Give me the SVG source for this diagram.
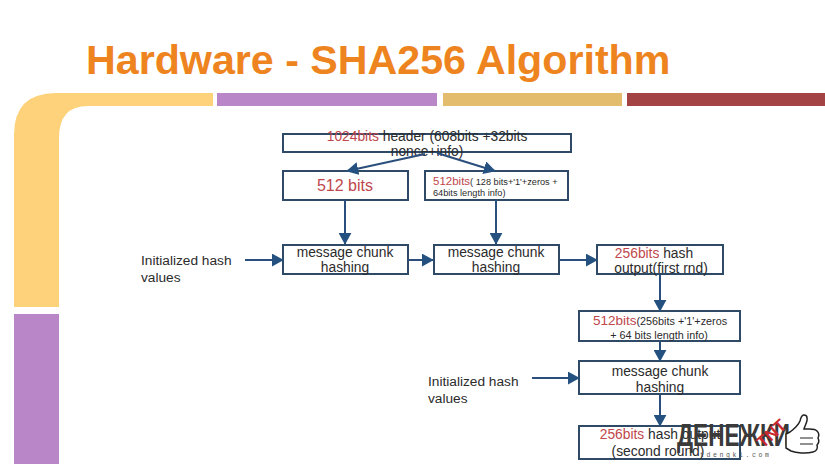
<svg xmlns="http://www.w3.org/2000/svg" width="825" height="464" viewBox="0 0 825 464">
<style>
text{font-family:"Liberation Sans",Arial,sans-serif;fill:#2b2b2b}
.b{fill:#fff;stroke:#2f4a66;stroke-width:2}
.c{fill:none;stroke:#2a4f7c;stroke-width:2}
.r{fill:#c0474c}
.m{font-size:13.800px;text-anchor:middle}
.l{font-size:13.700px}
.s{font-size:9.200px}
.t{font-size:10.800px;text-anchor:middle}
</style>
<defs><marker id="a" markerWidth="6" markerHeight="6.500" refX="5.600" refY="3.250" orient="auto"><path d="M0 0L6 3.250L0 6.500Z" fill="#24517f"/></marker></defs>
<rect width="825" height="464" fill="#fff"/>
<text x="86" y="74" font-size="41.200" font-weight="700" style="fill:#ee8420">Hardware - SHA256 Algorithm</text>
<path d="M14 307V135Q14 93 56 93H213V106H88Q59 106 59 138V307Z" fill="#fdd27a"/>
<rect x="217" y="93" width="220" height="13" fill="#b987c8"/>
<rect x="443" y="93" width="179" height="13" fill="#e3bd6d"/>
<rect x="627" y="93" width="198" height="13" fill="#a34343"/>
<rect x="14" y="314" width="45" height="150" fill="#b987c8"/>
<g id="n1"><rect class="b" x="283" y="134" width="288" height="18"/><text class="m" x="427" y="141"><tspan class="r">1024bits</tspan> header (608bits +32bits</text><text class="m" x="427" y="156">nonce+info)</text></g>
<g id="n2"><rect class="b" x="283" y="171" width="125" height="29"/><text x="345" y="191" font-size="16" text-anchor="middle" style="fill:#c0474c">512 bits</text></g>
<g id="n3"><rect class="b" x="425" y="171" width="143" height="29"/><text class="s" x="433" y="185"><tspan class="r" font-size="11.500">512bits</tspan>( 128 bits+'1'+zeros +</text><text class="s" x="433" y="196">64bits length info)</text></g>
<g id="n4"><rect class="b" x="283" y="245" width="125" height="29"/><text class="m" x="345" y="257">message chunk</text><text class="m" x="345" y="272">hashing</text></g>
<g id="n5"><rect class="b" x="434" y="245" width="125" height="29"/><text class="m" x="496" y="257">message chunk</text><text class="m" x="496" y="272">hashing</text></g>
<g id="n6"><rect class="b" x="597" y="245" width="126" height="29"/><text class="m" x="654" y="258"><tspan class="r">256bits</tspan> hash</text><text class="m" x="661" y="273">output(first rnd)</text></g>
<g id="n7"><rect class="b" x="579" y="311" width="161" height="30"/><text class="t" x="660" y="325"><tspan class="r" font-size="13.500">512bits</tspan>(256bits +'1'+zeros</text><text class="t" x="659" y="339">+ 64 bits length info)</text></g>
<g id="n8"><rect class="b" x="579" y="361" width="161" height="33"/><text class="m" x="660" y="376">message chunk</text><text class="m" x="660" y="392">hashing</text></g>
<g id="n9"><rect class="b" x="579" y="426" width="161" height="33"/><text class="m" x="660" y="439"><tspan class="r">256bits</tspan> hash output</text><text class="m" x="658" y="456">(second round)</text></g>
<g id="n10"><text class="l" x="141" y="265">Initialized hash</text><text class="l" x="141" y="282">values</text></g>
<g id="n11"><text class="l" x="428" y="386">Initialized hash</text><text class="l" x="428" y="403">values</text></g>
<g id="connectors">
<path class="c" marker-end="url(#a)" d="M425 154L347 171"/>
<path class="c" marker-end="url(#a)" d="M437 153L495 171"/>
<path class="c" marker-end="url(#a)" d="M345 200V244"/>
<path class="c" marker-end="url(#a)" d="M496 200V244"/>
<path class="c" marker-end="url(#a)" d="M245 260H283"/>
<path class="c" marker-end="url(#a)" d="M408 260H433"/>
<path class="c" marker-end="url(#a)" d="M560 260H597"/>
<path class="c" marker-end="url(#a)" d="M660 275V311"/>
<path class="c" marker-end="url(#a)" d="M660 341V361"/>
<path class="c" marker-end="url(#a)" d="M532 378H579"/>
<path class="c" marker-end="url(#a)" d="M660 394V426"/>
</g>
<g id="watermark">
<text x="677" y="446" font-size="31" font-weight="700" textLength="113" lengthAdjust="spacingAndGlyphs" style="fill:#3a3a3a">ДЕНЕЖКИ</text>
<text x="763" y="449" font-size="17" font-weight="700" transform="rotate(-42 763 449)" style="fill:#c8282e">TNT</text>
<text x="700" y="457" font-size="6.500" letter-spacing="2.600" style="font-family:'Liberation Mono',monospace;fill:#555">tdengki.com</text>
<path d="M804 415c-3 0-3 3-4 6-2 5-6 8-10 11l-4 2v14l5 3c5 2 15 3 22 1 4-1 5-4 4-7 2-2 2-5 1-7 1-2 1-5-1-7-2-3-7-2-13-2 1-4 4-8 3-11 0-2-1-3-3-3z" fill="#fff" stroke="#222" stroke-width="1.500"/>
<path d="M800 438h13M800 444h13" fill="none" stroke="#222"/>
</g>
</svg>
